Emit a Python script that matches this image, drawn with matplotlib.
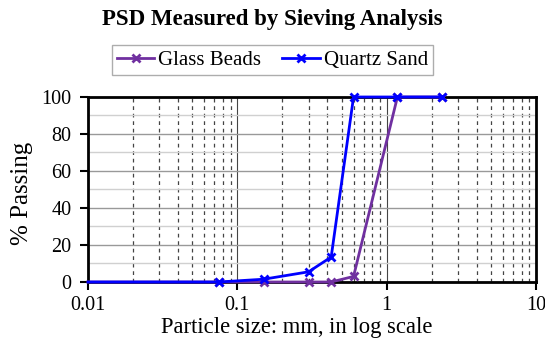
import matplotlib
matplotlib.use("Agg")
import matplotlib.pyplot as plt
from matplotlib.ticker import LogLocator, FixedLocator, NullFormatter

plt.rcParams['font.family'] = ['Liberation Serif', 'DejaVu Serif']

sieve_mm = [0.01, 0.075, 0.15, 0.3, 0.425, 0.6, 1.18, 2.36]
glass_beads = [0, 0, 0, 0, 0, 3, 100, 100]
quartz_sand = [0, 0, 1.5, 5.5, 13.5, 100, 100, 100]
x_ticks = [0.01, 0.1, 1, 10]
x_tick_labels = ["0.01", "0.1", "1", "10"]
y_ticks = [0, 20, 40, 60, 80, 100]

fig = plt.figure(figsize=(5.45, 3.54), dpi=100)
ax = fig.add_axes([0.1615, 0.2034, 0.822, 0.5226])

ax.set_xscale('log')
ax.set_xlim(0.01, 10)
ax.set_ylim(0, 100)

ax.plot(sieve_mm, glass_beads, color='#7030A0', lw=2, marker='x', ms=6, mew=2,
        markevery=slice(1, None), label='Glass Beads', zorder=3, clip_on=False)
ax.plot(sieve_mm, quartz_sand, color='#0000FF', lw=2, marker='x', ms=6, mew=2,
        markevery=slice(1, None), label='Quartz Sand', zorder=4, clip_on=False)

ax.xaxis.set_major_locator(FixedLocator(x_ticks))
ax.set_xticklabels(x_tick_labels)
ax.xaxis.set_minor_locator(LogLocator(base=10, subs=range(2, 10)))
ax.xaxis.set_minor_formatter(NullFormatter())
ax.yaxis.set_major_locator(FixedLocator(y_ticks))
ax.yaxis.set_minor_locator(FixedLocator([10, 30, 50, 70, 90]))

ax.grid(which='major', axis='y', color='#999999', lw=1)
ax.grid(which='minor', axis='y', color='#d0d0d0', lw=1)
ax.grid(which='major', axis='x', color='#444444', lw=0.8)
ax.grid(which='minor', axis='x', color='#444444', lw=0.9, ls=(0, (3, 3)))
ax.set_axisbelow(True)

for s in ax.spines.values():
    s.set_linewidth(2)
ax.tick_params(which='major', direction='out', length=6, width=1.5, labelsize=14.5)
ax.tick_params(which='minor', length=0)
ax.tick_params(axis='x', pad=4)
ax.tick_params(axis='y', pad=6)

fig.text(0.545, 0.076, 'Particle size: mm, in log scale', ha='center', va='center',
         fontsize=16.3)
fig.text(0.04, 0.455, '% Passing', ha='center', va='center', rotation=90,
         fontsize=18)

fig.text(0.5, 0.945, 'PSD Measured by Sieving Analysis', ha='center', va='center',
         fontsize=16.5, fontweight='bold')
leg = fig.legend(loc='center', bbox_to_anchor=(0.5, 0.83), ncol=2, fontsize=15,
                 frameon=True, fancybox=False, edgecolor='#999999',
                 handlelength=1.8, handletextpad=0.2, columnspacing=1.0,
                 borderpad=0.25)
leg.get_frame().set_linewidth(1)

fig.savefig('out.png', dpi=100)
